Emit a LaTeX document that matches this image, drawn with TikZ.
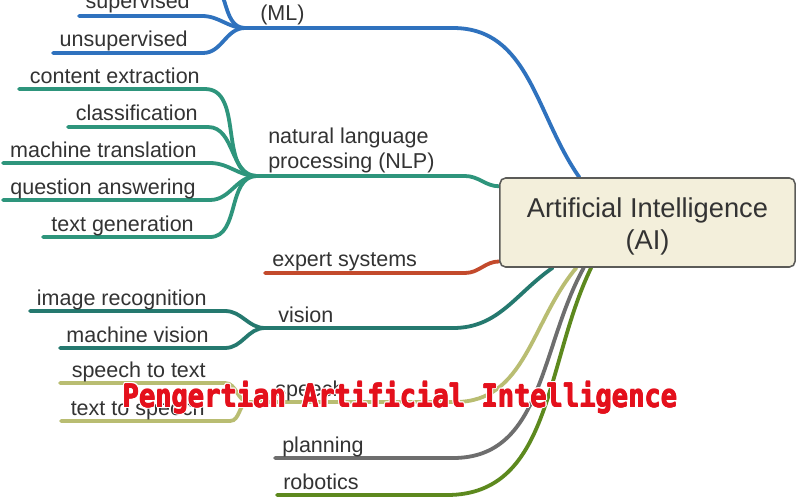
\documentclass[tikz,border=0pt]{standalone}
\usepackage{fontspec}
\setmainfont{Liberation Sans}
\newfontfamily\titlefont{DejaVu Sans Mono}[FakeStretch=0.86]
\usetikzlibrary{calc,backgrounds}

\definecolor{mlblue}{HTML}{2F72BE}
\definecolor{nlpgreen}{HTML}{2E957C}
\definecolor{expred}{HTML}{C34A2C}
\definecolor{visteal}{HTML}{25796F}
\definecolor{speecholive}{HTML}{B9BD72}
\definecolor{plangray}{HTML}{6E6E6E}
\definecolor{robgreen}{HTML}{5D891E}
\definecolor{boxfill}{HTML}{F3EFDB}
\definecolor{boxline}{HTML}{5B5B58}
\definecolor{labeltext}{HTML}{333333}
\definecolor{titlered}{HTML}{E4101C}

\begin{document}
\begin{tikzpicture}[x=0.025cm,y=-0.025cm,
  leaf/.style={anchor=base east,inner sep=0pt,text=labeltext,font=\fontsize{15.3}{17.8}\selectfont},
  twig/.style={anchor=base west,inner sep=0pt,text=labeltext,font=\fontsize{15.3}{17.8}\selectfont,align=left},
  branch/.style={line width=2.7pt,line cap=round},
  headline/.style={anchor=base,inner sep=0pt,font=\titlefont\bfseries\fontsize{22.4}{26}\selectfont}]

  \useasboundingbox (0,0) rectangle (800,500);
  \clip (0,0) rectangle (800,500);

  \node[draw=boxline,fill=boxfill,line width=1.1pt,rounded corners=4pt,
        minimum width=7.375cm,minimum height=2.225cm] (ai) at (647.5,222.5) {};
  \node[align=center,text=labeltext,font=\fontsize{19.4}{22.8}\selectfont] (ai-text)
        at (647.5,226.5) {Artificial Intelligence\\(AI)};

  % junctions
  \coordinate (mlj) at (245,28);
  \coordinate (nlpj) at (257,176);
  \coordinate (visj) at (265,328);
  \coordinate (spj) at (249,402);

  % branch labels
  \node[twig,anchor=south west] (ml) at (260,25) {machine learning\\(ML)};
  \node[twig,anchor=south west] (nlp) at (268,173) {natural language\\processing (NLP)};
  \node[twig] (expert) at (272,266) {expert systems};
  \node[twig] (vision) at (278,322) {vision};
  \node[twig] (speech) at (275,396) {speech};
  \node[twig] (planning) at (282,452) {planning};
  \node[twig] (robotics) at (283,489) {robotics};

  % leaf labels
  \node[leaf] (superv) at (190,9) {supervised};
  \node[leaf] (unsuperv) at (188,46) {unsupervised};
  \node[leaf] (cextr) at (200,83) {content extraction};
  \node[leaf] (classif) at (198,120) {classification};
  \node[leaf] (mtrans) at (197,157) {machine translation};
  \node[leaf] (qans) at (196,194) {question answering};
  \node[leaf] (tgen) at (194,231) {text generation};
  \node[leaf] (imrec) at (207,305) {image recognition};
  \node[leaf] (mvis) at (209,342) {machine vision};
  \node[leaf] (stt) at (206,377) {speech to text};
  \node[leaf] (tts) at (205,415) {text to speech};

  % free ends of the leaf lines
  \coordinate (deep-l) at (80,-21);
  \coordinate (superv-l) at (79,16);
  \coordinate (unsuperv-l) at (53,53);
  \coordinate (cextr-l) at (19,89);
  \coordinate (classif-l) at (68,127);
  \coordinate (mtrans-l) at (3,163);
  \coordinate (qans-l) at (3,200);
  \coordinate (tgen-l) at (43,237);
  \coordinate (imrec-l) at (30,311);
  \coordinate (mvis-l) at (60,348);
  \coordinate (stt-l) at (60,383);
  \coordinate (tts-l) at (61,421);

  \begin{scope}[on background layer]
    \fill[white] (0,0) rectangle (800,500);

    \draw[branch,mlblue] (mlj) -- ++(208,0) to[out=0,in=125] ($(ai.north west)!0.27!(ai.north east)$);
    \draw[branch,mlblue] (deep-l) -- ++(125,0) to[out=0,in=180] (mlj);
    \draw[branch,mlblue] (superv-l) -- ++(123,0) to[out=0,in=180] (mlj);
    \draw[branch,mlblue] (unsuperv-l) -- ++(150,0) to[out=0,in=180] (mlj);

    \draw[branch,nlpgreen] (nlpj) -- ++(208,0) to[out=0,in=180] ($(ai.north west)!0.1!(ai.south west)$);
    \draw[branch,nlpgreen] (cextr-l) -- ++(186,0) to[out=0,in=180] (nlpj);
    \draw[branch,nlpgreen] (classif-l) -- ++(140,0) to[out=0,in=180] (nlpj);
    \draw[branch,nlpgreen] (mtrans-l) -- ++(207,0) to[out=0,in=180] (nlpj);
    \draw[branch,nlpgreen] (qans-l) -- ++(207,0) to[out=0,in=180] (nlpj);
    \draw[branch,nlpgreen] (tgen-l) -- ++(167,0) to[out=0,in=180] (nlpj);

    \draw[branch,expred] (265,273) -- ++(200,0) to[out=0,in=180] ($(ai.north west)!0.93!(ai.south west)$);

    \draw[branch,visteal] (visj) -- ++(188,0) to[out=0,in=215] ($(ai.south west)!0.18!(ai.south east)$);
    \draw[branch,visteal] (imrec-l) -- ++(195,0) to[out=0,in=180] (visj);
    \draw[branch,visteal] (mvis-l) -- ++(165,0) to[out=0,in=180] (visj);

    \draw[branch,speecholive] (spj) -- ++(206,0) to[out=0,in=230] ($(ai.south west)!0.26!(ai.south east)$);
    \draw[branch,speecholive] (stt-l) -- ++(165,0) to[out=0,in=180] (spj);
    \draw[branch,speecholive] (tts-l) -- ++(169,0) to[out=0,in=180] (spj);

    \draw[branch,plangray] (275,458) -- ++(178,0) to[out=0,in=241] ($(ai.south west)!0.285!(ai.south east)$);
    \draw[branch,robgreen] (277,495) -- ++(170,0) to[out=0,in=244] ($(ai.south west)!0.31!(ai.south east)$);
  \end{scope}

  % title: white halo, then a thickened red face
  \foreach \a in {0,30,...,330}
    \node[headline,text=white] (halo-\a) at ($(400,407)+(\a:1.6)$) {Pengertian Artificial Intelligence};
  \foreach \a in {0,90,180,270}
    \node[headline,text=titlered] (bold-\a) at ($(400,407)+(\a:0.5)$) {Pengertian Artificial Intelligence};
  \node[headline,text=titlered] (title) at (400,407) {Pengertian Artificial Intelligence};
\end{tikzpicture}
\end{document}
